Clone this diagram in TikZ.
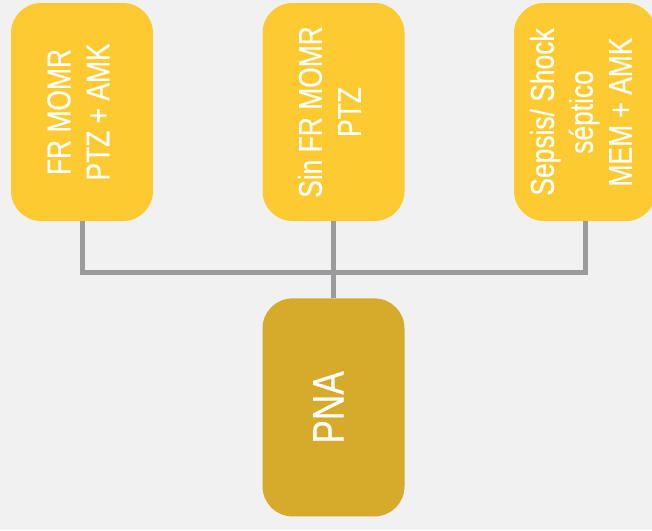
\documentclass[tikz,border=0pt]{standalone}
\usepackage{fontspec}
\setmainfont{Liberation Sans}[FakeStretch=0.8,FakeBold=0.4]
\usepackage{color}
\usepackage{graphicx}
\usepackage{tikz}

\definecolor{causeyellow}{HTML}{FDCB31}
\definecolor{resultgold}{HTML}{D6AA2A}
\definecolor{busgray}{HTML}{9A9B9D}
\definecolor{paper}{HTML}{F1F1F1}

% text standing upright in the boxes, read bottom to top
\newcommand{\uptext}[1]{\rotatebox{90}{\begin{tabular}{@{}c@{}}#1\end{tabular}}}

\begin{document}
\begin{tikzpicture}[x=1pt,y=1pt,node distance=251.5pt]
		\tikzstyle{cause}=[rectangle, rounded corners=30pt, fill=causeyellow, text=white, minimum width=142pt, minimum height=218pt, inner sep=0pt, font=\fontsize{33}{39}\selectfont]
		\tikzstyle{result}=[cause, fill=resultgold, font=\fontsize{44}{50}\selectfont]
		\tikzstyle{bus}=[draw=busgray, line width=5pt]

		\fill[paper] (0,0) rectangle (652,-530);
		\clip (0,0) rectangle (652,-530);

		\node [cause] (fr) at (82,-112) {\uptext{FR MOMR\\PTZ + AMK}};
		\node [cause] (sinfr) [right of=fr] {\uptext{Sin FR MOMR\\PTZ}};
		\node [cause] (sepsis) [right of=sinfr] {\uptext{Sepsis/ Shock\\séptico\\MEM + AMK}};
		\node [result] (pna) at ([yshift=-77pt]sinfr.south) [anchor=north] {\uptext{PNA}};
		\coordinate (joint) at ([yshift=-51.5pt]sinfr.south);

		% lines leave the boxes from their lower edges
		\draw [bus] (fr.south) |- (joint) -| (sepsis.south);
		\draw [bus] (sinfr.south) -- (pna.north);
	\end{tikzpicture}
\end{document}
